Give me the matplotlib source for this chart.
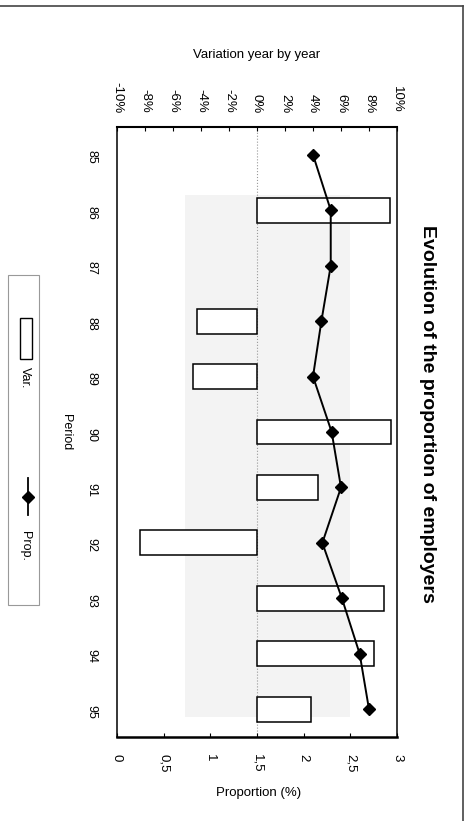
import matplotlib
matplotlib.use("Agg")
import matplotlib.pyplot as plt
from matplotlib.patches import Rectangle
from matplotlib.lines import Line2D
from matplotlib.transforms import Affine2D

# ---- data ----
periods = ["85", "86", "87", "88", "89", "90", "91", "92", "93", "94", "95"]
variation = [None, 9.5, None, -4.3, -4.6, 9.55, 4.35, -8.35, 9.1, 8.35, 3.85]   # %
proportion = [2.10, 2.29, 2.29, 2.19, 2.10, 2.30, 2.40, 2.20, 2.41, 2.60, 2.70]  # %
var_ticks = [-10, -8, -6, -4, -2, 0, 2, 4, 6, 8, 10]
var_labels = ["-10%", "-8%", "-6%", "-4%", "-2%", "0%", "2%", "4%", "6%", "8%", "10%"]
prop_ticks = [0, 0.5, 1, 1.5, 2, 2.5, 3]
prop_labels = ["0", "0,5", "1", "1,5", "2", "2,5", "3"]

plt.rcParams['font.family'] = ['Liberation Sans', 'DejaVu Sans']

W, H = 467, 821
fig = plt.figure(figsize=(W / 100, H / 100), dpi=100)
fig.patch.set_facecolor("white")
# pixel transform (y downward)
px = Affine2D().scale(1 / W, -1 / H).translate(0, 1) + fig.transFigure

L, R, T, B = 117, 397, 127, 737
ax = fig.add_axes([L / W, 1 - B / H, (R - L) / W, (B - T) / H])
ax.set_facecolor("none")
ax2 = ax.twiny()
idx = list(range(len(periods)))

# faint scan shading
ax.add_patch(Rectangle((185, 195), 165, 522, transform=px, facecolor="#f3f3f3",
                       edgecolor="none", zorder=0))

# variation bars on main axis (top scale)
ax.set_xlim(-10, 10)
ax.set_ylim(len(periods) - 0.5, -0.5)
ax.axvline(0, color="#999999", ls=":", lw=0.8, zorder=1)
bar_idx = [i for i, v in zip(idx, variation) if v is not None]
bar_val = [v for v in variation if v is not None]
ax.barh(bar_idx, bar_val, height=0.45, color="white", edgecolor="black", linewidth=1.1, zorder=2)
ax.xaxis.tick_top()
ax.set_xticks(var_ticks)
ax.set_xticklabels(var_labels, rotation=-90, fontsize=9.5)
ax.tick_params(axis="x", direction="in", length=3, pad=10, top=True, bottom=False,
               labeltop=True, labelbottom=False)
ax.set_yticks(idx)
ax.set_yticklabels(periods, rotation=-90, fontsize=9)
ax.tick_params(axis="y", length=0, pad=14)
for s in ax.spines.values():
    s.set_linewidth(1.1)
ax.spines["bottom"].set_linewidth(1.8)
ax.spines["top"].set_linewidth(1.5)

# proportion line on twin axis (bottom scale)
ax2.set_xlim(0, 3)
ax2.set_ylim(len(periods) - 0.5, -0.5)
ax2.plot(proportion, idx, color="black", lw=1.4, marker="D", markersize=6.5, zorder=3)
ax2.xaxis.tick_bottom()
ax2.set_xticks(prop_ticks)
ax2.set_xticklabels(prop_labels, rotation=-90, fontsize=9.5)
ax2.tick_params(axis="x", direction="in", length=3, pad=12, top=False, bottom=True,
                labelbottom=True, labeltop=False)
for s in ax2.spines.values():
    s.set_visible(False)

# titles / labels
fig.text(257 / W, 1 - 55 / H, "Variation year by year", ha="center", va="center", fontsize=9.5)
fig.text(259 / W, 1 - 793 / H, "Proportion (%)", ha="center", va="center", fontsize=9.5)
fig.text(66 / W, 1 - 432 / H, "Period", ha="center", va="center", rotation=-90, fontsize=9)
fig.text(427 / W, 1 - 414 / H, "Evolution of the proportion of employers", ha="center",
         va="center", rotation=-90, fontsize=14, fontweight="semibold")

# manual rotated legend
fig.add_artist(Rectangle((8, 275), 31, 330, transform=px, facecolor="none",
                         edgecolor="#999999", lw=0.8))
fig.add_artist(Rectangle((20, 318), 12, 41, transform=px, facecolor="white",
                         edgecolor="black", lw=1.0))
fig.text(25 / W, 1 - 378 / H, "Var.", ha="center", va="center", rotation=-90, fontsize=9)
fig.add_artist(Line2D([28, 28], [478, 515], transform=px, color="black", lw=1.3))
fig.add_artist(Line2D([28], [497], transform=px, color="black", marker="D", markersize=6))
fig.text(25 / W, 1 - 546 / H, "Prop.", ha="center", va="center", rotation=-90, fontsize=9)

# outer frame (top and right)
fig.add_artist(Line2D([0, 463], [6, 6], transform=px, color="#444444", lw=1.2))
fig.add_artist(Line2D([463, 463], [6, 821], transform=px, color="#444444", lw=1.2))

fig.savefig("out.png", dpi=100)
